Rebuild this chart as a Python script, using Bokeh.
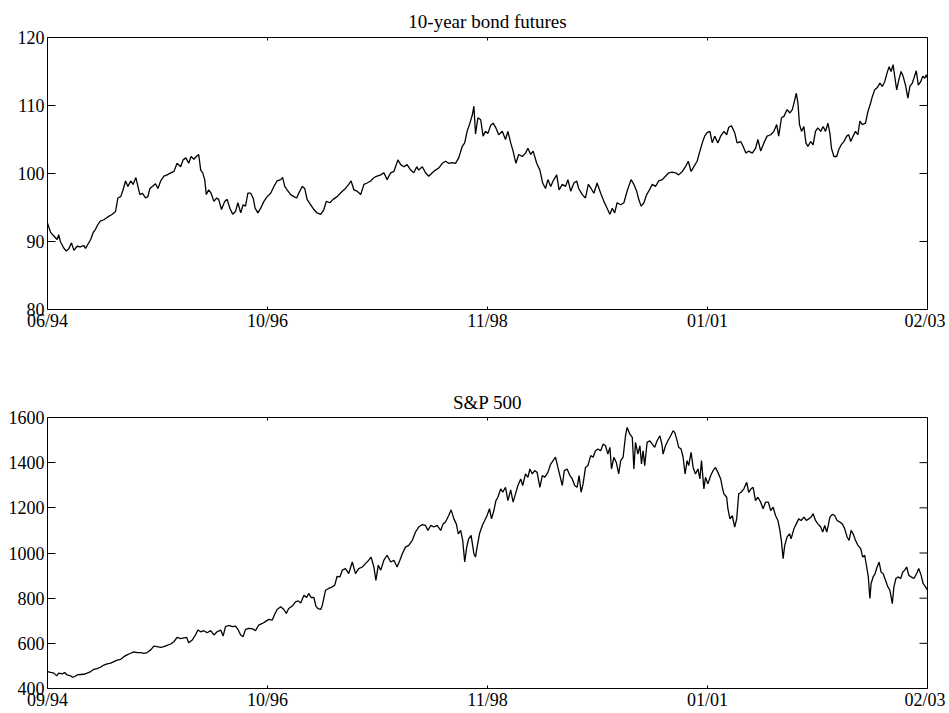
import math
from bokeh.plotting import figure
from bokeh.layouts import column
from bokeh.models import Range1d, FixedTicker, Title
from bokeh.embed import file_html
from bokeh.resources import INLINE

# ---------------- data (trading-day index, price) ----------------
N_DAYS = 2200

bond_day = [0, 8, 16, 24, 28, 32, 41, 47, 53, 60, 66, 74, 82, 91, 95, 101, 108, 114, 120, 126,
            132, 141, 148, 153, 162, 170, 176, 183, 189, 195, 201, 208, 214, 221, 226, 231, 237, 245, 251, 256,
            262, 270, 276, 283, 291, 299, 308, 316, 324, 333, 339, 346, 353, 359, 366, 372, 378, 383, 388, 393,
            397, 403, 409, 416, 423, 428, 435, 443, 449, 456, 463, 470, 476, 483, 489, 495, 501, 508, 514, 519,
            526, 533, 541, 549, 558, 566, 574, 583, 588, 593, 599, 608, 616, 623, 628, 637, 643, 649, 658, 666,
            674, 683,
            691, 697, 706, 714, 724, 737, 745, 753, 759, 766, 774, 783, 791, 799, 808, 816, 824, 833, 841, 849,
            858, 866, 876, 883, 891, 899, 908, 916, 923, 928, 937, 945, 953, 962, 970, 978, 987, 995, 1003, 1012,
            1020, 1028, 1037, 1043, 1049, 1056, 1062, 1066, 1070, 1076, 1083, 1089, 1095, 1101, 1108, 1114, 1121, 1128, 1137, 1145,
            1151, 1158, 1164, 1171, 1178, 1187, 1195, 1201, 1208, 1214, 1223, 1231, 1238, 1245, 1251, 1258, 1264, 1273, 1279, 1287,
            1295, 1301, 1308, 1316, 1323, 1328, 1337, 1345, 1352, 1359, 1366, 1374, 1383, 1391, 1399, 1406, 1412, 1418, 1424, 1433,
            1441, 1448, 1453, 1459, 1466, 1473, 1478, 1484, 1491, 1498, 1503, 1512, 1520, 1528, 1537, 1545, 1553, 1562, 1570, 1578,
            1587, 1595, 1602, 1609, 1616, 1624, 1631, 1637, 1643, 1649, 1656, 1662, 1668, 1676, 1683, 1691, 1698, 1703, 1710, 1718,
            1724, 1733, 1739, 1746, 1753, 1762, 1770, 1776, 1783, 1791, 1799, 1808, 1816, 1823, 1828, 1835, 1841, 1849, 1856, 1862,
            1868, 1872, 1876, 1880, 1885, 1891, 1896, 1901, 1908, 1914, 1920, 1926, 1933, 1939, 1945, 1951, 1956, 1960, 1966, 1973,
            1978, 1984, 1991, 1998, 2003, 2008, 2014, 2020, 2026, 2031, 2037, 2045, 2051, 2058, 2062, 2068, 2074, 2081, 2087, 2093,
            2099, 2104, 2109, 2114, 2118, 2123, 2128, 2134, 2139, 2145, 2151, 2156, 2162, 2166, 2172, 2177, 2183, 2188, 2193, 2197,
            2200]

bond_price = [92.7, 91.3, 90.8, 90.3, 91.0, 90.0, 89.0, 88.6, 88.9, 89.8, 88.7, 89.3, 89.2, 89.4, 89.0, 89.6, 90.3, 91.3, 91.8, 92.5,
              93.0, 93.2, 93.5, 93.7, 94.0, 94.4, 96.4, 96.6, 97.6, 98.9, 98.1, 98.9, 98.4, 99.4, 98.1, 96.9, 97.1, 96.4, 96.6, 97.8,
              98.1, 98.5, 97.8, 98.9, 99.6, 99.8, 100.1, 100.3, 101.5, 101.0, 102.0, 102.3, 101.5, 102.5, 102.1, 102.5, 102.8, 100.5, 100.1, 99.1,
              96.9, 97.6, 97.1, 95.9, 96.4, 96.2, 94.7, 95.9, 96.2, 94.9, 94.0, 94.4, 95.7, 94.2, 95.4, 95.2, 97.1, 97.1, 96.4, 94.9,
              94.2, 94.9, 95.9, 96.6, 97.1, 98.1, 98.9, 99.1, 99.4, 98.1, 97.6, 96.9, 96.6, 96.4, 97.1, 98.1, 97.8, 96.2, 95.4, 94.7,
              94.2, 94.0,
              94.7, 95.9, 95.7, 96.2, 96.6, 97.4, 97.8, 98.4, 98.9, 97.6, 97.4, 96.9, 98.4, 98.6, 98.9, 99.4, 99.6, 99.8, 100.1, 99.1,
              100.1, 100.3, 102.0, 101.3, 101.0, 101.3, 100.5, 100.1, 101.0, 100.5, 101.0, 100.1, 99.6, 100.1, 100.5, 100.8, 101.5, 101.8, 101.5, 101.6,
              101.5, 102.3, 104.0, 104.5, 106.2, 107.4, 108.6, 109.9, 105.8, 108.2, 107.9, 105.5, 106.2, 105.9, 107.1, 107.4, 106.7, 105.7, 106.2, 105.0,
              106.2, 104.5, 103.3, 101.5, 102.8, 102.5, 103.0, 103.7, 102.8, 103.3, 101.5, 100.5, 98.6, 97.8, 99.1, 98.1, 98.9, 99.8, 97.6, 98.4,
              98.1, 99.1, 97.4, 98.6, 98.9, 97.8, 96.9, 96.4, 98.4, 97.8, 97.1, 98.6, 97.1, 95.9, 94.9, 94.0, 94.9, 94.2, 95.7, 95.4,
              95.7, 97.2, 98.1, 99.1, 98.4, 97.4, 96.2, 95.2, 95.7, 96.9, 97.4, 98.4, 98.1, 98.9, 99.1, 99.6, 100.1, 100.2, 100.1, 99.8,
              100.3, 101.0, 101.8, 100.3, 101.0, 101.8, 103.3, 104.5, 105.5, 106.0, 106.2, 104.5, 105.5, 104.5, 105.5, 106.2, 105.7, 106.8, 107.0, 106.0,
              104.5, 104.7, 104.0, 103.0, 103.3, 103.0, 103.7, 105.0, 103.3, 104.5, 105.5, 105.7, 106.2, 107.2, 105.5, 108.2, 108.4, 109.4, 108.9, 109.4,
              110.8, 111.8, 110.4, 107.2, 106.2, 106.9, 104.5, 104.0, 104.7, 104.2, 106.2, 106.7, 106.2, 106.9, 106.2, 107.4, 105.9, 103.7, 102.5, 102.5,
              103.5, 104.2, 104.7, 105.5, 105.7, 104.7, 105.5, 106.2, 105.7, 107.7, 107.2, 107.4, 109.1, 110.4, 111.3, 112.3, 112.6, 113.3, 112.8, 113.5,
              114.8, 115.7, 115.0, 116.0, 114.3, 112.3, 113.7, 115.0, 114.3, 113.0, 111.1, 112.8, 113.3, 114.0, 115.1, 113.0, 113.5, 114.3, 114.0, 114.5,
              114.0]

spx_day = [0, 8, 16, 23, 28, 37, 43, 49, 58, 62, 68, 74, 82, 91, 99, 108, 116, 124, 132, 141,
           149, 158, 166, 174, 183, 191, 199, 208, 216, 224, 233, 241, 249, 258, 266, 274, 283, 291, 299, 308,
           316, 324, 333, 341, 348, 353, 362, 370, 376, 383, 391, 399, 408, 416, 424, 433, 439, 445, 453, 462,
           470, 476, 483, 489, 495, 503, 512, 520, 528, 537, 545, 553, 562, 568, 574, 583, 591, 597, 603, 612,
           620, 627, 633, 641, 648, 653, 659, 666, 671, 676, 683,
           687, 695, 703, 712, 718, 724, 731, 737, 745, 753, 762, 770, 778, 787, 795, 803, 809, 816, 821, 827,
           833, 841, 849, 858, 866, 874, 881, 887, 895, 903, 912, 920, 928, 937, 945, 951, 958, 966, 974, 983,
           989, 995, 1003, 1009, 1016, 1022, 1027, 1033, 1038, 1043, 1048, 1053, 1059, 1066, 1070, 1074, 1080, 1087, 1093, 1099,
           1105, 1110, 1116, 1121, 1126, 1133, 1138, 1145, 1151, 1158, 1164, 1170, 1176, 1183, 1188, 1195, 1201, 1206, 1212, 1218,
           1224, 1231, 1237, 1243, 1251, 1258, 1264, 1270, 1276, 1281, 1287, 1292, 1299, 1306, 1312, 1318, 1324, 1329, 1334, 1339,
           1345, 1351, 1358, 1364, 1370, 1376, 1383, 1389, 1395, 1401, 1406, 1410, 1416, 1422, 1428,
           1433, 1439, 1445, 1449, 1456, 1462, 1466, 1470, 1476, 1481, 1485, 1489, 1493, 1499, 1506, 1512, 1518, 1524, 1531, 1536,
           1539, 1545, 1551, 1558, 1564, 1568, 1573, 1578, 1584, 1589, 1594, 1599, 1603, 1609, 1614, 1620, 1626, 1631, 1635, 1641,
           1645, 1651, 1658, 1664, 1670, 1676, 1683, 1687, 1691, 1698, 1701, 1706, 1712, 1718, 1723, 1728, 1734, 1741, 1748, 1753,
           1759, 1764, 1770, 1776, 1783, 1789, 1795, 1802, 1808, 1814, 1820, 1826, 1831, 1835, 1839, 1843, 1849, 1855, 1859, 1866,
           1872, 1878, 1884, 1891, 1897, 1903, 1909, 1914, 1920, 1926, 1933, 1938, 1943, 1948, 1951, 1956, 1962, 1968, 1974, 1981,
           1987, 1993, 1999, 2004, 2009, 2014, 2020, 2026, 2033, 2038, 2043, 2048, 2052, 2056, 2059, 2064, 2069, 2074, 2079, 2084,
           2089, 2095, 2101, 2106, 2112, 2116, 2121, 2126, 2133, 2138, 2143, 2148, 2153, 2159, 2166, 2173, 2178, 2184, 2189, 2195,
           2200]

spx_price = [475, 471, 468, 456, 468, 465, 471, 460, 456, 450, 453, 460, 462, 463, 468, 475, 485, 488, 494, 504,
             509, 512, 519, 526, 529, 541, 549, 556, 562, 559, 559, 556, 559, 571, 588, 585, 582, 585, 591, 597,
             607, 626, 621, 624, 626, 603, 615, 637, 659, 651, 656, 647, 656, 637, 651, 659, 632, 674, 679, 674,
             676, 662, 637, 629, 662, 666, 665, 656, 681, 688, 696, 706, 703, 729, 750, 762, 750, 732, 754, 765,
             784, 788, 779, 813, 803, 821, 803, 803, 765, 754, 750,
             768, 835, 843, 850, 857, 897, 894, 924, 931, 909, 960, 909, 931, 938, 953, 968, 982, 938, 879, 946,
             924, 968, 990, 960, 968, 938, 968, 997, 1026, 1034, 1056, 1093, 1115, 1126, 1122, 1100, 1122, 1115, 1122, 1100,
             1129, 1137, 1166, 1191, 1151, 1129, 1085, 1100, 1056, 960, 1026, 1063, 1078, 997, 982, 1026, 1085, 1122, 1144, 1166,
             1196, 1151, 1188, 1232, 1247, 1284, 1269, 1291, 1232, 1279, 1225, 1262, 1299, 1328, 1299, 1350, 1335, 1372, 1350, 1365,
             1357, 1291, 1343, 1335, 1357, 1394, 1409, 1424, 1379, 1343, 1299, 1365, 1372, 1343, 1328, 1299, 1291, 1343, 1269, 1306,
             1379, 1387, 1431, 1424, 1453, 1460, 1453, 1482, 1475, 1438, 1468, 1372, 1424, 1401, 1350,
             1409, 1424, 1519, 1556, 1526, 1512, 1372, 1490, 1438, 1475, 1394, 1453, 1387, 1490, 1497, 1482, 1468, 1497, 1519, 1482,
             1438, 1475, 1497, 1519, 1541, 1534, 1504, 1468, 1460, 1424, 1350, 1409, 1387, 1446, 1379, 1350, 1372, 1328, 1409, 1284,
             1335, 1306, 1343, 1365, 1379, 1357, 1328, 1291, 1262, 1247, 1196, 1151, 1166, 1115, 1151, 1262, 1269, 1284, 1313, 1269,
             1284, 1291, 1232, 1247, 1225, 1196, 1225, 1225, 1188, 1203, 1166, 1144, 1100, 1049, 975, 1034, 1071, 1085, 1063, 1107,
             1129, 1151, 1144, 1159, 1144, 1151, 1159, 1174, 1144, 1129, 1115, 1093, 1122, 1093, 1115, 1159, 1171, 1166, 1144, 1137,
             1129, 1107, 1071, 1056, 1100, 1085, 1056, 1034, 1019, 982, 990, 938, 894, 799, 865, 894, 909, 938, 960, 915,
             909, 879, 850, 835, 776, 850, 887, 894, 887, 915, 924, 938, 902, 894, 887, 909, 931, 902, 865, 850,
             835]

bond_ticks_y = [80, 90, 100, 110, 120]
spx_ticks_y = [400, 600, 800, 1000, 1200, 1400, 1600]
bond_date_labels = ["06/94", "10/96", "11/98", "01/01", "02/03"]
spx_date_labels = ["09/94", "10/96", "11/98", "01/01", "02/03"]

FONT = "Liberation Serif"
FS = "18px"
TITLE_FS = "19px"


def make_panel(days, values, yticks, date_labels, title, border_top, border_bottom, frame_h, title_standoff):
    ylo, yhi = yticks[0], yticks[-1]
    nlab = len(date_labels)
    xticks = [N_DAYS * i / (nlab - 1) for i in range(nlab)]
    p = figure(frame_width=880, frame_height=frame_h,
               x_range=Range1d(0, N_DAYS), y_range=Range1d(ylo, yhi),
               output_backend="svg", toolbar_location=None,
               min_border_left=47, min_border_right=18,
               min_border_top=border_top, min_border_bottom=border_bottom,
               background_fill_color="white", border_fill_color="white")
    p.title = Title(text=title, align="center", text_font=FONT, text_font_size=TITLE_FS,
                    text_font_style="normal", text_color="black", standoff=title_standoff)
    p.xgrid.visible = False
    p.ygrid.visible = False
    p.outline_line_color = "black"
    p.outline_line_width = 1
    p.outline_line_alpha = 1

    p.line(days, values, line_color="black", line_width=1.3)

    # inward ticks on the right and top edges of the frame
    p.ray(x=[N_DAYS] * len(yticks), y=yticks, length=8, length_units="screen",
          angle=math.pi, line_color="black", line_width=1)
    p.ray(x=xticks, y=[yhi] * len(xticks), length=3, length_units="screen",
          angle=-math.pi / 2, line_color="black", line_width=1)

    xa = p.xaxis[0]
    xa.ticker = FixedTicker(ticks=xticks)
    xa.major_label_overrides = {t: lab for t, lab in zip(xticks, date_labels)}
    xa.major_tick_in = 3
    xa.major_tick_out = 0
    xa.minor_tick_in = 0
    xa.minor_tick_out = 0
    xa.axis_line_color = None
    xa.major_tick_line_color = "black"
    xa.major_label_standoff = 1
    xa.major_label_text_font = FONT
    xa.major_label_text_font_size = FS
    xa.major_label_text_color = "black"

    ya = p.yaxis[0]
    ya.ticker = FixedTicker(ticks=yticks)
    ya.major_tick_in = 8
    ya.major_tick_out = 0
    ya.minor_tick_in = 0
    ya.minor_tick_out = 0
    ya.axis_line_color = None
    ya.major_tick_line_color = "black"
    ya.major_label_standoff = 3
    ya.major_label_text_font = FONT
    ya.major_label_text_font_size = FS
    ya.major_label_text_color = "black"
    return p


p1 = make_panel(bond_day, bond_price, bond_ticks_y, bond_date_labels, "10-year bond futures",
                37, 60, 272, 12)
p2 = make_panel(spx_day, spx_price, spx_ticks_y, spx_date_labels, "S&P 500",
                48, 10, 271, 10)

layout = column(p1, p2)
open("out.html", "w").write(file_html(layout, INLINE))
